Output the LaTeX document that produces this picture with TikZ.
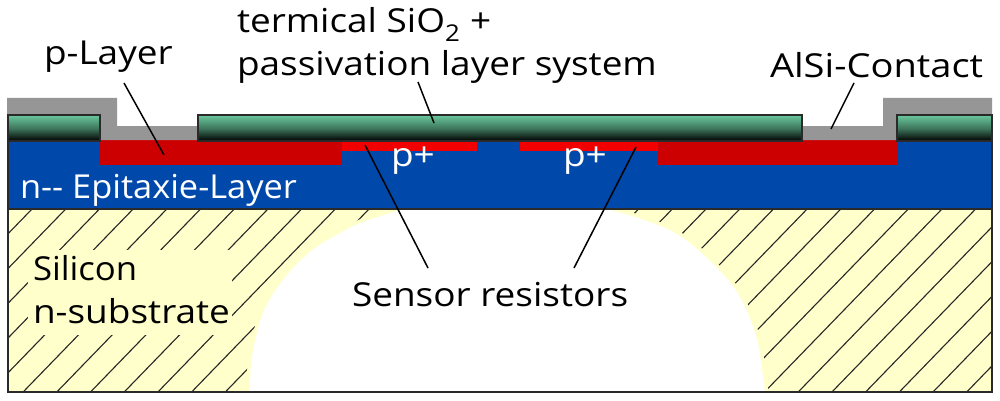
\documentclass[tikz,border=0pt]{standalone}
\usepackage{fontspec}
\setmainfont[FakeStretch=1.12]{Open Sans}
\definecolor{substrate}{HTML}{FFFFCC}
\definecolor{epi}{HTML}{0048AA}
\definecolor{pdark}{HTML}{CC0000}
\definecolor{pplus}{HTML}{F20000}
\definecolor{metal}{HTML}{969696}
\definecolor{edge}{HTML}{2A2A2A}
\definecolor{oxtop}{HTML}{66C298}
\tikzset{
  lab/.style={anchor=base west,inner sep=0pt,outer sep=0pt,font=\fontsize{33}{33}\selectfont,text=black},
  wlab/.style={lab,text=white},
  leader/.style={draw=black,line width=1.5pt},
  oxide/.style={top color=oxtop,bottom color=black,middle color=oxtop!60!black},
  oxedge/.style={draw=edge,line width=2pt},
  outline/.style={draw=edge,line width=2pt},
  hatchline/.style={draw=black!85,line width=1.1pt}
}
\begin{document}
\begin{tikzpicture}[x=1pt,y=-1pt]
\useasboundingbox (0,0) rectangle (1000,401);
\fill[white] (0,0) rectangle (1000,401);
% substrate
\fill[substrate] (7,208) rectangle (992,392);
\begin{scope}
  \clip (7,208) rectangle (992,392);
  \foreach \k in {-6,...,36} {
    \draw[hatchline] ({33+33.7*\k},208) -- ({33+33.7*\k-178.4},392);
  }
  \fill[substrate] (28,250) rectangle (232,335);
  \def\cavity{plot[smooth,tension=0.6] coordinates {(250,393) (252,357) (263,313) (283,280) (310,252) (340,233) (363,222) (407,208)} -- plot[smooth,tension=0.6] coordinates {(603,208) (650,222) (683,238) (717,268) (740,297) (757,340) (765,393)}}
  \draw[substrate,line width=7pt] \cavity;
  \fill[white] \cavity -- cycle;
\end{scope}
% epitaxial layer
\fill[epi] (7,141) rectangle (992,208);
\fill[pdark] (99,140) rectangle (342,165);
\fill[pdark] (658,140) rectangle (898,165);
\fill[pplus] (342,141) rectangle (477,151);
\fill[pplus] (520,141) rectangle (658,151);
% metal
\fill[metal] (7,98) -- (117,98) -- (117,126) -- (198,126) -- (198,140) -- (100,140) -- (100,115) -- (7,115) -- cycle;
\fill[metal] (992,98) -- (883,98) -- (883,126) -- (802,126) -- (802,140) -- (897,140) -- (897,115) -- (992,115) -- cycle;
% oxide
\shade[oxide] (8,116) rectangle (100,141);
\shade[oxide] (198,116) rectangle (802,141);
\shade[oxide] (897,116) rectangle (992,141);
\draw[oxedge] (8,141) -- (8,115) -- (100,115) -- (100,141) -- cycle;
\draw[oxedge] (198,115) rectangle (802,141);
\draw[oxedge] (897,141) -- (897,115) -- (992,115) -- (992,141) -- cycle;
% outlines
\draw[outline] (7.5,141) -- (7.5,392) -- (992,392) -- (992,141);
\draw[outline] (7,208.5) -- (992,208.5);
% labels
\node[lab] (sio) at (237,33) {termical SiO\textsubscript{2} +};
\node[lab] (pass) at (237,76) {passivation layer system};
\node[lab] (play) at (44,65) {p-Layer};
\node[lab] (alsi) at (770,78) {\scalebox{1.03}[1]{AlSi-Contact}};
\node[wlab] (epilab) at (20,198) {\scalebox{0.93}[1]{n-{}- Epitaxie-Layer}};
\node[wlab] (pa) at (391,166) {p+};
\node[wlab] (pb) at (563,166) {p+};
\node[lab] (sil) at (33,280) {\scalebox{0.94}[1]{Silicon}};
\node[lab] (nsub) at (33,323) {n-substrate};
\node[lab] (sens) at (352,306) {Sensor resistors};
% leaders
\coordinate (e1) at (124,83);   \coordinate (e2) at (164,155);
\coordinate (e3) at (418,82);   \coordinate (e4) at (434,123);
\coordinate (e5) at (854,83);   \coordinate (e6) at (831,129);
\coordinate (e7) at (365,145);  \coordinate (e8) at (428,268);
\coordinate (e9) at (636,147);  \coordinate (e10) at (574,268);
\draw[leader] (e1) -- (e2);
\draw[leader] (e3) -- (e4);
\draw[leader] (e5) -- (e6);
\draw[leader] (e7) -- (e8);
\draw[leader] (e9) -- (e10);
\end{tikzpicture}
\end{document}
